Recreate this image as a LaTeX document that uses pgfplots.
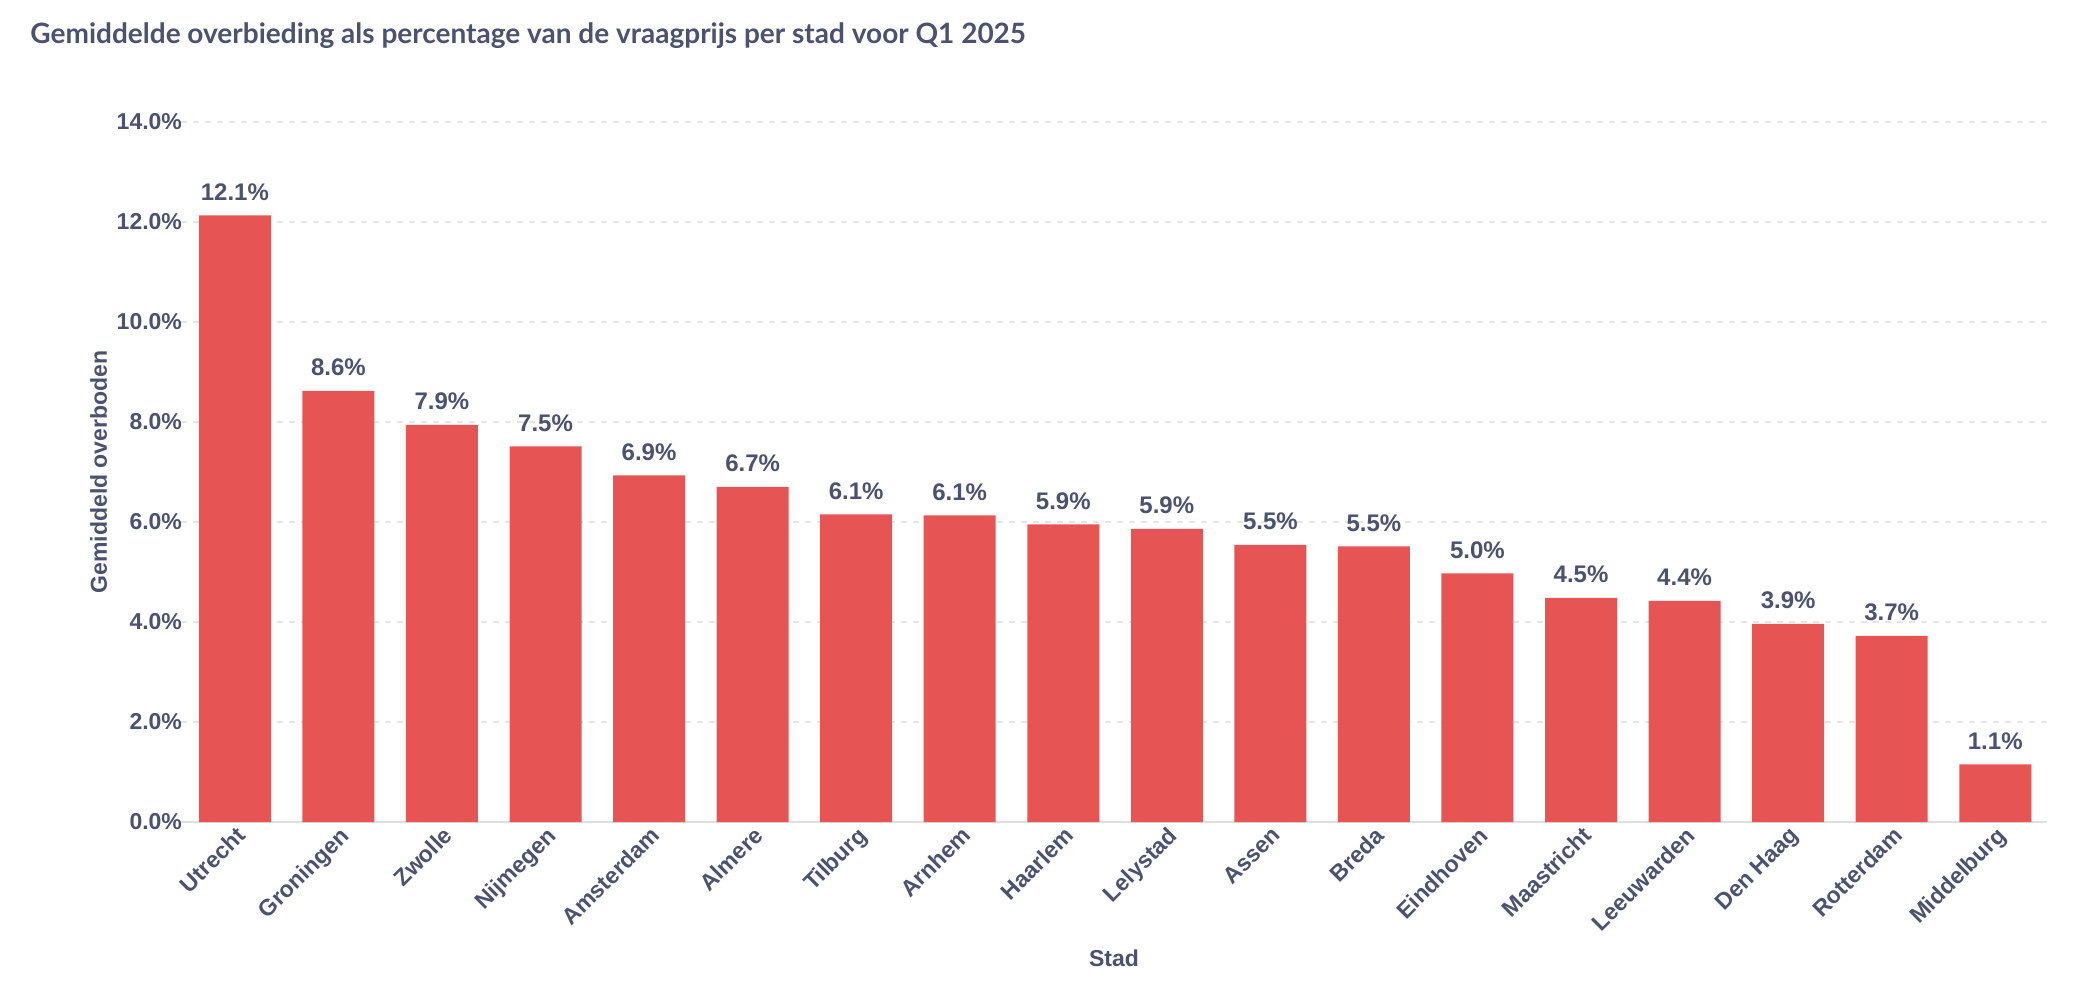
\documentclass[border=0pt]{standalone}
\usepackage{pgfplots}
\pgfplotsset{compat=1.18}
\usepackage{pgfplotstable}
\usepackage{fontspec}
\setmainfont{Liberation Sans}
\newfontfamily\lato{Lato}
\definecolor{barc}{HTML}{E65454}
\definecolor{txt}{HTML}{4A5270}
\pgfplotstableread{
x v m
0 12.13 12.1
1 8.62 8.6
2 7.94 7.9
3 7.51 7.5
4 6.93 6.9
5 6.70 6.7
6 6.15 6.1
7 6.13 6.1
8 5.95 5.9
9 5.86 5.9
10 5.54 5.5
11 5.51 5.5
12 4.97 5.0
13 4.48 4.5
14 4.42 4.4
15 3.96 3.9
16 3.72 3.7
17 1.15 1.1
}\data
\begin{document}
\begin{tikzpicture}
\path[use as bounding box] (0,0) rectangle (1048pt,500pt);
\node[anchor=north west,font=\lato\bfseries\fontsize{14}{16}\selectfont,text=txt,inner sep=0] at (15pt,489pt) {Gemiddelde overbieding als percentage van de vraagprijs per stad voor Q1 2025};
\begin{axis}[
  at={(90.5pt,89pt)},anchor=south west,
  width=933pt,height=350pt,scale only axis,
  ymin=0,ymax=14,xmin=-0.52,xmax=17.5,
  ytick={0,2,...,14},
  yticklabel={\pgfmathprintnumber[fixed,fixed zerofill,precision=1]{\tick}\%},
  /pgf/number format/assume math mode=true,
  xtick=data,
  xticklabels={Utrecht,Groningen,Zwolle,Nijmegen,Amsterdam,Almere,Tilburg,Arnhem,Haarlem,Lelystad,Assen,Breda,Eindhoven,Maastricht,Leeuwarden,Den Haag,Rotterdam,Middelburg},
  xticklabel style={rotate=45,anchor=north east,inner sep=1pt},
  tick label style={font=\bfseries\fontsize{11.5}{13}\selectfont,text=txt},
  yticklabel style={xshift=4pt},
  major tick length=0pt,
  axis line style={draw=none},
  ymajorgrids,
  grid style={dashed,gray!20,line width=0.6pt},
  xlabel={Stad},ylabel={Gemiddeld overboden},
  label style={font=\bfseries\fontsize{11.5}{13}\selectfont,text=txt},
  xlabel style={yshift=-4pt},
  ylabel style={yshift=-2pt},
  nodes near coords={\pgfmathprintnumber[fixed,fixed zerofill,precision=1]{\pgfplotspointmeta}\%},
  point meta=explicit,
  every node near coord/.append style={font=\bfseries\fontsize{12}{13}\selectfont,text=txt,yshift=4pt},
  clip=false,
]
\draw[gray!25,line width=0.8pt] (axis cs:-0.52,0) -- (axis cs:17.5,0);
\addplot[ybar,bar width=36pt,fill=barc,draw=none] table[x=x,y=v,meta=m]{\data};
\end{axis}
\end{tikzpicture}
\end{document}
